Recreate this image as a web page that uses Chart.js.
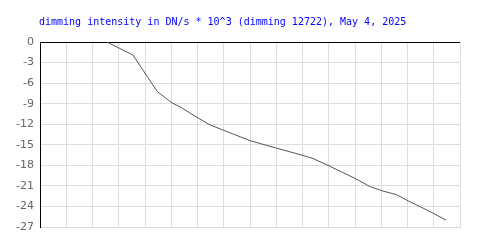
<!DOCTYPE html>
<html>
<head>
<meta charset="utf-8">
<script src="https://cdn.jsdelivr.net/npm/chart.js@4/dist/chart.umd.min.js"></script>
<style>
  html, body { margin: 0; padding: 0; background: #fff; }
  #c { display: block; }
</style>
</head>
<body>
<canvas id="c" width="500" height="250"></canvas>
<script>
const titleText = "dimming intensity in DN/s * 10^3 (dimming 12722), May 4, 2025";
const xValues = [2.55, 3.54, 4.46, 5.03, 5.33, 5.98, 6.48, 8.0, 9.02, 9.97, 10.4, 11.02, 12.0, 12.57, 13.02, 13.59, 14.03, 14.73, 14.98, 15.47];
const yValues = [0, -1.9, -7.2, -8.9, -9.45, -11.0, -12.1, -14.4, -15.5, -16.5, -17.0, -18.1, -19.9, -21.1, -21.7, -22.3, -23.2, -24.5, -25.0, -26.0];
const yTicks = [0, -3, -6, -9, -12, -15, -18, -21, -24, -27];

const points = xValues.map((x, i) => ({ x: x, y: yValues[i] }));

const titlePlugin = {
  id: 'topTitle',
  afterDraw(chart) {
    const ctx = chart.ctx;
    ctx.save();
    ctx.font = '10px "DejaVu Sans Mono", monospace';
    ctx.fillStyle = '#0000ff';
    ctx.textBaseline = 'middle';
    ctx.textAlign = 'left';
    ctx.fillText(titleText, 39, 22);
    ctx.restore();
  }
};

new Chart(document.getElementById('c'), {
  type: 'line',
  data: {
    datasets: [{
      data: points,
      borderColor: '#555555',
      borderWidth: 1,
      pointRadius: 0,
      tension: 0,
      fill: false
    }]
  },
  options: {
    responsive: false,
    animation: false,
    layout: { padding: { top: 42, right: 40, bottom: 23, left: 0 } },
    plugins: { legend: { display: false }, tooltip: { enabled: false }, title: { display: false } },
    scales: {
      x: {
        type: 'linear',
        min: 0,
        max: 16,
        ticks: { display: false, stepSize: 1 },
        grid: { color: '#dddddd', lineWidth: 1, drawTicks: false },
        border: { color: '#dddddd', width: 1 },
        afterFit(scale) { scale.height = 0; }
      },
      y: {
        min: -27,
        max: 0,
        afterBuildTicks(scale) { scale.ticks = yTicks.map(v => ({ value: v })); },
        ticks: {
          padding: 6,
          color: '#666666',
          font: { family: '"DejaVu Sans"', size: 11 }
        },
        grid: {
          color: ctx => (ctx.tick && ctx.tick.value === 0) ? '#000000' : '#dddddd',
          lineWidth: 1,
          drawTicks: false
        },
        border: { color: '#000000', width: 1 },
        afterFit(scale) { scale.width = 40; }
      }
    }
  },
  plugins: [titlePlugin]
});
</script>
</body>
</html>
